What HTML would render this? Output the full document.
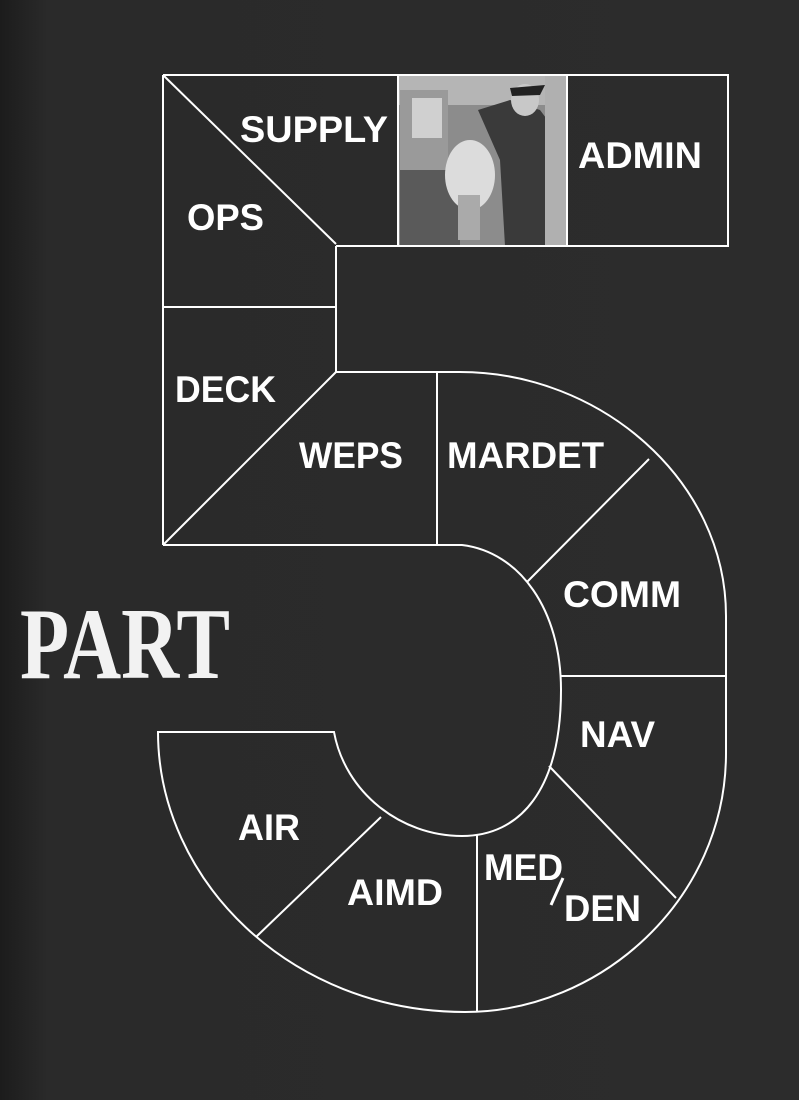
<!DOCTYPE html>
<html><head><meta charset="utf-8"><style>
html,body{margin:0;padding:0;background:#2a2a2a;}
svg{display:block;}
</style></head><body>
<svg width="799" height="1100" viewBox="0 0 799 1100" xmlns="http://www.w3.org/2000/svg">
<defs>
<linearGradient id="bg" x1="0" x2="1" y1="0" y2="0">
<stop offset="0" stop-color="#1c1c1c"/><stop offset="0.06" stop-color="#2a2a2a"/><stop offset="1" stop-color="#2c2c2c"/>
</linearGradient>
</defs>
<rect width="799" height="1100" fill="url(#bg)"/>
<g>
<rect x="398" y="75" width="169" height="171" fill="#8c8c8c"/>
<rect x="398" y="75" width="169" height="30" fill="#b5b5b5"/>
<rect x="400" y="90" width="48" height="80" fill="#9a9a9a"/>
<rect x="412" y="98" width="30" height="40" fill="#d0d0d0"/>
<rect x="400" y="170" width="60" height="76" fill="#5a5a5a"/>
<ellipse cx="470" cy="175" rx="25" ry="35" fill="#dcdcdc"/>
<rect x="458" y="195" width="22" height="45" fill="#aaaaaa"/>
<path d="M478 110 L510 100 L540 110 L555 130 L560 246 L505 246 L500 160 Z" fill="#3a3a3a"/>
<ellipse cx="525" cy="100" rx="14" ry="16" fill="#c8c8c8"/>
<path d="M510 88 L545 85 L540 95 L512 96 Z" fill="#222"/>
<rect x="545" y="75" width="22" height="171" fill="#b0b0b0"/>
</g>
<g fill="none" stroke="#fff" stroke-width="2">
<path d="M163 75 L728 75 L728 246 L336 246"/>
<line x1="398" y1="75" x2="398" y2="246"/>
<line x1="567" y1="75" x2="567" y2="246"/>
<line x1="163" y1="75" x2="336" y2="244"/>
<path d="M163 75 L163 545"/>
<line x1="336" y1="246" x2="336" y2="372"/>
<line x1="163" y1="307" x2="336" y2="307"/>
<line x1="163" y1="545" x2="336" y2="372"/>
<path d="M336 372 L460 372 C600 372 726 480 726 616 L726 753 C726 900 600 1012 465 1012 C290 1012 158 880 158 732 L334 732 C345 792 400 836 462 836 C520 836 561 790 561 690 C561 610 520 552 462 545 L163 545"/>
<line x1="437" y1="372" x2="437" y2="545"/>
<line x1="527" y1="582" x2="649" y2="459"/>
<line x1="561" y1="676" x2="726" y2="676"/>
<line x1="549" y1="766" x2="676" y2="898"/>
<line x1="477" y1="834" x2="477" y2="1012"/>
<line x1="381" y1="817" x2="256" y2="937"/>
<line x1="551" y1="905" x2="563" y2="878" stroke-width="3"/>
</g>
<g fill="#fff" font-family="Liberation Sans, sans-serif" font-weight="bold" font-size="37">
<text x="240" y="142" textLength="148" lengthAdjust="spacingAndGlyphs">SUPPLY</text>
<text x="578" y="168" textLength="124" lengthAdjust="spacingAndGlyphs">ADMIN</text>
<text x="187" y="230" textLength="77" lengthAdjust="spacingAndGlyphs">OPS</text>
<text x="175" y="402" textLength="101" lengthAdjust="spacingAndGlyphs">DECK</text>
<text x="299" y="468" textLength="104" lengthAdjust="spacingAndGlyphs">WEPS</text>
<text x="447" y="468" textLength="157" lengthAdjust="spacingAndGlyphs">MARDET</text>
<text x="563" y="607" textLength="118" lengthAdjust="spacingAndGlyphs">COMM</text>
<text x="580" y="747" textLength="75" lengthAdjust="spacingAndGlyphs">NAV</text>
<text x="238" y="840" textLength="62" lengthAdjust="spacingAndGlyphs">AIR</text>
<text x="347" y="905" textLength="96" lengthAdjust="spacingAndGlyphs">AIMD</text>
<text x="484" y="880" textLength="79" lengthAdjust="spacingAndGlyphs">MED</text>
<text x="564" y="921" textLength="77" lengthAdjust="spacingAndGlyphs">DEN</text>
</g>
<text x="20" y="678" fill="#f2f2f2" font-family="Liberation Serif, serif" font-weight="bold" font-size="102" textLength="210" lengthAdjust="spacingAndGlyphs">PART</text>
</svg>
</body></html>
